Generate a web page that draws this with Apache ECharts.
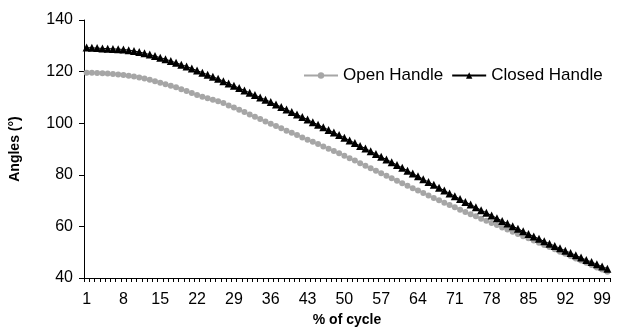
<!DOCTYPE html>
<html>
<head>
<meta charset="utf-8">
<script src="https://cdn.jsdelivr.net/npm/echarts@6/dist/echarts.min.js"></script>
<style>
  html, body { margin: 0; padding: 0; background: #fff; }
  #chart { width: 625px; height: 333px; }
</style>
</head>
<body>
<div id="chart"></div>
<script>
// % of cycle, 1..100
const cycles = [
  1, 2, 3, 4, 5, 6, 7, 8, 9, 10, 11, 12, 13, 14, 15, 16, 17, 18, 19, 20,
  21, 22, 23, 24, 25, 26, 27, 28, 29, 30, 31, 32, 33, 34, 35, 36, 37, 38, 39, 40,
  41, 42, 43, 44, 45, 46, 47, 48, 49, 50, 51, 52, 53, 54, 55, 56, 57, 58, 59, 60,
  61, 62, 63, 64, 65, 66, 67, 68, 69, 70, 71, 72, 73, 74, 75, 76, 77, 78, 79, 80,
  81, 82, 83, 84, 85, 86, 87, 88, 89, 90, 91, 92, 93, 94, 95, 96, 97, 98, 99, 100
];

const openHandle = [
  119.6, 119.6, 119.5, 119.4, 119.3, 119.1, 118.9, 118.7, 118.4, 118.1,
  117.7, 117.3, 116.8, 116.3, 115.7, 115.1, 114.5, 113.9, 113.2, 112.5,
  111.7, 110.9, 110.3, 109.7, 109.1, 108.5, 107.8, 106.9, 106.1, 105.2,
  104.3, 103.4, 102.5, 101.6, 100.7, 99.8, 98.9, 98.0, 97.1, 96.3,
  95.4, 94.5, 93.6, 92.8, 91.9, 91.0, 90.1, 89.2, 88.4, 87.4,
  86.4, 85.5, 84.5, 83.5, 82.5, 81.6, 80.6, 79.6, 78.7, 77.7,
  76.7, 75.8, 74.8, 73.9, 72.9, 72.0, 71.0, 70.1, 69.2, 68.3,
  67.4, 66.5, 65.6, 64.7, 63.9, 63.0, 62.2, 61.3, 60.5, 59.6,
  58.8, 57.9, 57.1, 56.2, 55.4, 54.5, 53.7, 52.8, 52.0, 51.1,
  50.2, 49.4, 48.5, 47.6, 46.8, 45.9, 45.0, 44.1, 43.3, 42.4
];

const closedHandle = [
  129.3, 129.2, 129.1, 129.0, 128.9, 128.8, 128.7, 128.6, 128.3, 128.0,
  127.6, 127.1, 126.6, 126.0, 125.4, 124.8, 124.1, 123.4, 122.7, 122.0,
  121.2, 120.4, 119.6, 118.8, 118.0, 117.2, 116.3, 115.4, 114.5, 113.6,
  112.7, 111.8, 110.9, 110.0, 109.1, 108.2, 107.2, 106.3, 105.3, 104.3,
  103.4, 102.4, 101.4, 100.4, 99.4, 98.4, 97.4, 96.4, 95.4, 94.4,
  93.3, 92.3, 91.2, 90.2, 89.1, 88.1, 87.0, 85.9, 84.9, 83.8,
  82.7, 81.6, 80.5, 79.4, 78.3, 77.2, 76.1, 75.0, 73.9, 72.8,
  71.7, 70.6, 69.5, 68.5, 67.4, 66.3, 65.3, 64.2, 63.2, 62.1,
  61.1, 60.1, 59.1, 58.1, 57.1, 56.1, 55.2, 54.2, 53.3, 52.4,
  51.5, 50.6, 49.7, 48.8, 47.9, 47.0, 46.2, 45.3, 44.5, 43.6
];

const yMin = 40;
const yMax = 140;
const yStep = 20;

const FONT = "'Liberation Sans', Arial, sans-serif";

const chart = echarts.init(document.getElementById("chart"));

const option = {
  animation: false,
  grid: { left: 84, right: 15, top: 20, bottom: 55 },
  legend: {
    left: 298,
    top: 62,
    itemWidth: 34,
    itemHeight: 8,
    itemGap: 8,
    textStyle: { fontFamily: FONT, fontSize: 17, color: "#000" },
    data: ["Open Handle", "Closed Handle"],
  },
  xAxis: {
    type: "category",
    data: cycles,
    name: "% of cycle",
    nameLocation: "middle",
    nameGap: 33,
    nameTextStyle: { fontFamily: FONT, fontSize: 14, fontWeight: "bold", color: "#000" },
    axisLine: { lineStyle: { color: "#000", width: 1 } },
    axisTick: { show: true, interval: 0, length: 4, lineStyle: { color: "#000" } },
    axisLabel: {
      interval: 6,
      margin: 14,
      fontFamily: FONT,
      fontSize: 16,
      color: "#000",
    },
    splitLine: { show: false },
  },
  yAxis: {
    type: "value",
    min: yMin,
    max: yMax,
    interval: yStep,
    name: "Angles (°)",
    nameLocation: "middle",
    nameRotate: 90,
    nameGap: 62,
    nameTextStyle: { fontFamily: FONT, fontSize: 14, fontWeight: "bold", color: "#000" },
    axisLine: { show: true, lineStyle: { color: "#000", width: 1 } },
    axisTick: { show: true, length: 5, lineStyle: { color: "#000" } },
    axisLabel: { margin: 11, fontFamily: FONT, fontSize: 16, color: "#000" },
    splitLine: { show: false },
  },
  series: [
    {
      name: "Open Handle",
      type: "line",
      data: openHandle,
      showAllSymbol: true,
      symbol: "circle",
      symbolSize: 6,
      lineStyle: { color: "#a6a6a6", width: 1 },
      itemStyle: { color: "#a6a6a6" },
    },
    {
      name: "Closed Handle",
      type: "line",
      data: closedHandle,
      showAllSymbol: true,
      symbol: "triangle",
      symbolSize: 8,
      lineStyle: { color: "#000", width: 1 },
      itemStyle: { color: "#000" },
    },
  ],
};

chart.setOption(option);
</script>
</body>
</html>
